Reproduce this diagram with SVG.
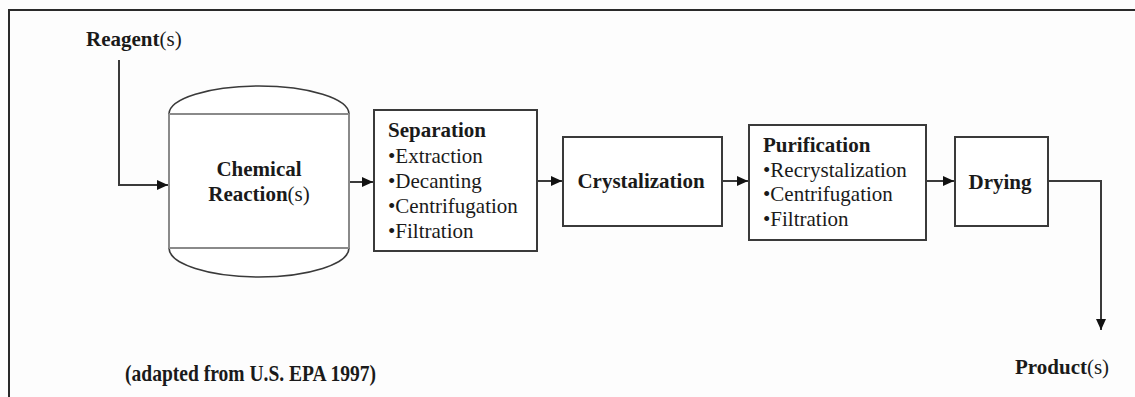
<svg xmlns="http://www.w3.org/2000/svg" width="1135" height="397" viewBox="0 0 1135 397">
<style>
  .t { font-family: "Liberation Serif", "Times New Roman", serif; fill: #1a1a1a; font-size: 21px; }
  .b { font-weight: bold; }
  .n { font-weight: normal; }
  .box { fill: #ffffff; stroke: #3a3a3a; stroke-width: 2; }
  .conn { fill: none; stroke: #3a3a3a; stroke-width: 2; }
  .side { stroke: #8a8a8a; stroke-width: 2; fill: none; }
  .cap { stroke: #3a3a3a; stroke-width: 1.6; fill: #ffffff; }
</style>
<defs>
  <marker id="arr" markerUnits="userSpaceOnUse" markerWidth="12" markerHeight="12" viewBox="0 0 12 12" refX="11" refY="6" orient="auto">
    <path d="M0,1 L11,6 L0,11 Z" fill="#111"/>
  </marker>
</defs>
<rect x="0" y="0" width="1135" height="397" fill="#fdfdfd"/>
<g id="frame">
  <path d="M9,397 L9,10 L1135,10" fill="none" stroke="#2a2a2a" stroke-width="2"/>
</g>
<g id="connectors">
  <path class="conn" d="M119,60 L119,185 L168,185" marker-end="url(#arr)"/>
  <path class="conn" d="M349,182 L373,182" marker-end="url(#arr)"/>
  <path class="conn" d="M537,181 L562,181" marker-end="url(#arr)"/>
  <path class="conn" d="M722,181 L748,181" marker-end="url(#arr)"/>
  <path class="conn" d="M926,181 L954,181" marker-end="url(#arr)"/>
  <path class="conn" d="M1048,181 L1101,181 L1101,330" marker-end="url(#arr)"/>
</g>
<g id="reagents">
  <text class="t b" x="86" y="46">Reagent<tspan class="n">(s)</tspan></text>
</g>
<g id="reactor">
  <path class="cap" d="M169,114 A90,28 0 0 1 349,114 Z"/>
  <path class="cap" d="M169,248 A90,29 0 0 0 349,248 Z"/>
  <rect x="169" y="114" width="180" height="134" fill="#ffffff" stroke="none"/>
  <line class="side" x1="169" y1="114" x2="349" y2="114"/>
  <line class="side" x1="169" y1="248" x2="349" y2="248"/>
  <line class="side" x1="169" y1="114" x2="169" y2="248"/>
  <line class="side" x1="349" y1="114" x2="349" y2="248"/>
  <text class="t b" x="259" y="176" text-anchor="middle">Chemical</text>
  <text class="t b" x="259" y="201" text-anchor="middle">Reaction<tspan class="n">(s)</tspan></text>
</g>
<g id="separation">
  <rect class="box" x="374" y="110" width="163" height="141"/>
  <text class="t b" x="388" y="137">Separation</text>
  <text class="t" x="388" y="163">•Extraction</text>
  <text class="t" x="388" y="188">•Decanting</text>
  <text class="t" x="388" y="213">•Centrifugation</text>
  <text class="t" x="388" y="238">•Filtration</text>
</g>
<g id="crystalization">
  <rect class="box" x="563" y="137" width="159" height="89"/>
  <text class="t b" x="641" y="188" text-anchor="middle">Crystalization</text>
</g>
<g id="purification">
  <rect class="box" x="749" y="125" width="177" height="115"/>
  <text class="t b" x="763" y="152">Purification</text>
  <text class="t" x="763" y="177">•Recrystalization</text>
  <text class="t" x="763" y="201">•Centrifugation</text>
  <text class="t" x="763" y="226">•Filtration</text>
</g>
<g id="drying">
  <rect class="box" x="955" y="137" width="93" height="89"/>
  <text class="t b" x="1000" y="189" text-anchor="middle">Drying</text>
</g>
<g id="product">
  <text class="t b" x="1015" y="374">Product<tspan class="n">(s)</tspan></text>
</g>
<g id="caption">
  <text class="t b" x="125" y="381" style="font-size:24px" textLength="251" lengthAdjust="spacingAndGlyphs">(adapted from U.S. EPA 1997)</text>
</g>
</svg>
